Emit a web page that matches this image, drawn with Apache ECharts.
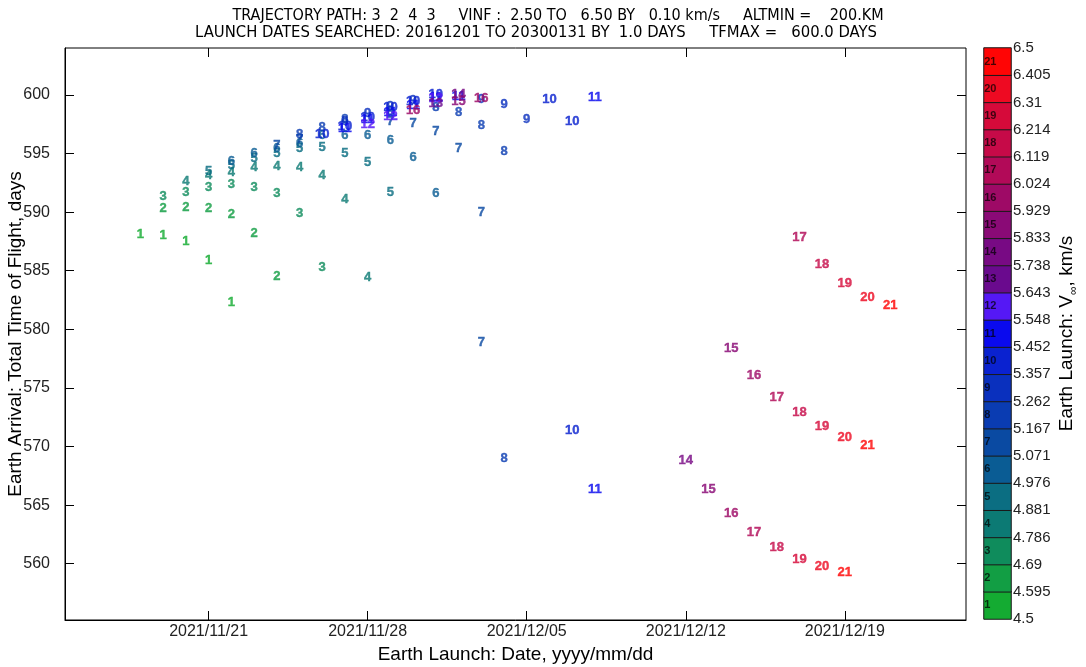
<!DOCTYPE html>
<html><head><meta charset="utf-8">
<script src="https://cdn.jsdelivr.net/npm/echarts@6/dist/echarts.min.js"></script>
<style>html,body{margin:0;padding:0;background:#fff}#c{width:1086px;height:667px}</style>
</head><body><div id="c"></div>
<script>
// ---- data: [launch date, total time of flight (days)] per V-infinity bin ----
const bin01 = [['2021-11-18',588.1],['2021-11-19',588.0],['2021-11-20',587.5],['2021-11-21',585.9],['2021-11-22',582.3]];
const bin02 = [['2021-11-19',590.3],['2021-11-20',590.4],['2021-11-21',590.35],['2021-11-22',589.8],['2021-11-23',588.2],['2021-11-24',584.5]];
const bin03 = [['2021-11-19',591.35],['2021-11-20',591.7],['2021-11-21',592.1],['2021-11-22',592.4],['2021-11-23',592.1],['2021-11-24',591.6],['2021-11-25',589.9],['2021-11-26',585.3]];
const bin04 = [['2021-11-20',592.6],['2021-11-21',593.1],['2021-11-22',593.4],['2021-11-23',593.8],['2021-11-24',593.9],['2021-11-25',593.8],['2021-11-26',593.1],['2021-11-27',591.1],['2021-11-28',584.4]];
const bin05 = [['2021-11-21',593.5],['2021-11-22',594.0],['2021-11-23',594.6],['2021-11-24',595.0],['2021-11-25',595.4],['2021-11-26',595.5],['2021-11-27',595.0],['2021-11-28',594.2],['2021-11-29',591.7]];
const bin06 = [['2021-11-22',594.3],['2021-11-23',595.0],['2021-11-24',595.4],['2021-11-25',595.9],['2021-11-26',596.5],['2021-11-27',596.5],['2021-11-28',596.5],['2021-11-29',596.1],['2021-11-30',594.7],['2021-12-01',591.6]];
const bin07 = [['2021-11-24',595.7],['2021-11-25',596.2],['2021-11-29',597.75],['2021-11-30',597.6],['2021-12-01',596.9],['2021-12-02',595.4],['2021-12-03',589.95],['2021-12-03',578.9]];
const bin08 = [['2021-11-25',596.6],['2021-11-26',597.2],['2021-11-27',597.9],['2021-11-29',598.6],['2021-12-01',598.9],['2021-12-02',598.5],['2021-12-03',597.4],['2021-12-04',595.2],['2021-12-04',569.0]];
const bin09 = [['2021-11-27',597.7],['2021-11-28',598.4],['2021-11-29',599.05],['2021-11-30',599.55],['2021-12-03',599.6],['2021-12-04',599.2],['2021-12-05',597.9]];
const bin10 = [['2021-11-26',596.6],['2021-11-27',597.3],['2021-11-28',598.1],['2021-11-29',598.9],['2021-11-30',599.4],['2021-12-01',600.0],['2021-12-06',599.6],['2021-12-07',597.7],['2021-12-07',571.4]];
const bin11 = [['2021-11-27',597.1],['2021-11-28',597.9],['2021-11-29',598.5],['2021-11-30',599.1],['2021-12-01',599.8],['2021-12-02',599.9],['2021-12-08',599.8],['2021-12-08',566.3]];
const bin12 = [['2021-11-28',597.5],['2021-11-29',598.2],['2021-12-01',599.7]];
const bin13 = [['2021-12-01',599.3]];
const bin14 = [['2021-12-02',600.0],['2021-12-12',568.8]];
const bin15 = [['2021-12-02',599.4],['2021-12-13',566.3],['2021-12-14',578.4]];
const bin16 = [['2021-11-30',598.7],['2021-12-03',599.7],['2021-12-14',564.3],['2021-12-15',576.1]];
const bin17 = [['2021-12-15',562.7],['2021-12-16',574.2],['2021-12-17',587.8]];
const bin18 = [['2021-12-16',561.4],['2021-12-17',572.9],['2021-12-18',585.5]];
const bin19 = [['2021-12-17',560.4],['2021-12-18',571.7],['2021-12-19',583.9]];
const bin20 = [['2021-12-18',559.8],['2021-12-19',570.8],['2021-12-20',582.7]];
const bin21 = [['2021-12-19',559.3],['2021-12-20',570.1],['2021-12-21',582.0]];

const binColors = ['#14ab32','#129e44','#0f8c5c','#0c7a74','#0b6e82','#0a5c94','#0a4aa2','#0a3cb2','#0a30be','#0a22d0','#0a0aee',
                   '#5518f5','#6a0a8e','#780a84','#8a0a76','#9e0a66','#b20a58','#c60a48','#d60a3a','#ee0a22','#ff0505'];
const cbTickLabels = ['4.5','4.595','4.69','4.786','4.881','4.976','5.071','5.167','5.262','5.357','5.452','5.548',
                      '5.643','5.738','5.833','5.929','6.024','6.119','6.214','6.31','6.405','6.5'];
const yTicks = [560,565,570,575,580,585,590,595,600];
const xTickDates = ['2021-11-21','2021-11-28','2021-12-05','2021-12-12','2021-12-19'];
const titleLine1 = 'TRAJECTORY PATH: 3  2  4  3     VINF :  2.50 TO   6.50 BY   0.10 km/s     ALTMIN =    200.KM';
const titleLine2 = 'LAUNCH DATES SEARCHED: 20161201 TO 20300131 BY  1.0 DAYS     TFMAX =   600.0 DAYS';

// ---- helpers ----
const bins = [bin01,bin02,bin03,bin04,bin05,bin06,bin07,bin08,bin09,bin10,bin11,bin12,bin13,bin14,bin15,bin16,bin17,bin18,bin19,bin20,bin21];
function ts(s){ const [y,m,d] = s.split('-').map(Number); return new Date(y, m-1, d).getTime(); }
function fmtDate(v){ const d = new Date(Math.round(v)); const p = n => String(n).padStart(2,'0'); return d.getFullYear()+'/'+p(d.getMonth()+1)+'/'+p(d.getDate()); }
const HOUR = 3600*1000;
const xMin = ts('2021-11-14') + 16.3*HOUR;
const xMax = ts('2021-12-24') + 8*HOUR;
const xTicks = xTickDates.map(ts);
const cbLo = 4.5, cbHi = 6.5;
const cbBounds = cbTickLabels.map((t,i) => cbLo + i*(cbHi-cbLo)/(cbTickLabels.length-1));

const FONT = '"Liberation Sans", Arial, sans-serif';
const NARROW = '"Liberation Sans Narrow", "DejaVu Sans Condensed", sans-serif';
const tickStyle = {color:'#222', fontSize:16, fontFamily:FONT};

const series = bins.map((arr, i) => ({
  type:'scatter', name:String(i+1), xAxisIndex:0, yAxisIndex:0,
  data: arr.map(p => [ts(p[0]), p[1]]),
  symbolSize:0, itemStyle:{color:'rgba(0,0,0,0)'}, silent:true, z:2+i*0.01,
  label:{show:true, position:'inside', formatter:String(i+1), color:binColors[i], fontSize:13, fontWeight:'bold', fontFamily:FONT,
         textBorderColor:binColors[i], textBorderWidth:0.4, offset:[-5,0]},
  labelLayout:{hideOverlap:false}
}));

series.push({
  type:'heatmap', xAxisIndex:2, yAxisIndex:2, silent:true,
  data: binColors.map((c,i) => ({value:[0,i,i+1], itemStyle:{color:c, borderColor:'#1a1a1a', borderWidth:1}})),
  label:{show:true, position:'insideLeft', distance:1, formatter:p => String(p.value[2]), color:'rgba(0,0,0,0.72)', fontSize:11, fontWeight:'bold', fontFamily:FONT}
});

const option = {
  animation:false,
  backgroundColor:'#fff',
  graphic:[
    {type:'text', x:558, y:16, style:{text:titleLine1, align:'center', verticalAlign:'middle', fontSize:16, fontFamily:NARROW, fill:'#000'}},
    {type:'text', x:536, y:33, style:{text:titleLine2, align:'center', verticalAlign:'middle', fontSize:16.5, fontFamily:NARROW, fill:'#000'}}
  ],
  grid:[
    {left:65, right:120, top:48, bottom:47, show:true, borderColor:'#000', borderWidth:1, backgroundColor:'#fff', outerBoundsMode:'none', containLabel:false},
    {left:984, width:27, top:48, bottom:48, outerBoundsMode:'none', containLabel:false}
  ],
  xAxis:[
    {type:'value', gridIndex:0, min:xMin, max:xMax, position:'bottom',
     name:'Earth Launch: Date, yyyy/mm/dd', nameLocation:'middle', nameGap:25, nameMoveOverlap:false,
     nameTextStyle:{color:'#000', fontSize:19, fontFamily:FONT},
     axisLine:{show:true, lineStyle:{color:'#000'}},
     axisTick:{show:true, inside:true, length:9, lineStyle:{color:'#000'}, customValues:xTicks},
     axisLabel:{show:true, margin:4, ...tickStyle, customValues:xTicks, formatter:v => fmtDate(v)},
     splitLine:{show:false}},
    {type:'value', gridIndex:0, min:xMin, max:xMax, position:'top',
     axisLine:{show:false}, axisLabel:{show:false},
     axisTick:{show:true, inside:true, length:9, lineStyle:{color:'#000'}, customValues:xTicks},
     splitLine:{show:false}},
    {type:'category', gridIndex:1, data:['cb'], show:false}
  ],
  yAxis:[
    {type:'value', gridIndex:0, min:555.2, max:604, position:'left',
     name:'Earth Arrival: Total Time of Flight, days', nameLocation:'middle', nameGap:40, nameRotate:90, nameMoveOverlap:false,
     nameTextStyle:{color:'#000', fontSize:19, fontFamily:FONT},
     axisLine:{show:true, lineStyle:{color:'#000'}},
     axisTick:{show:true, inside:true, length:9, lineStyle:{color:'#000'}, customValues:yTicks},
     axisLabel:{show:true, margin:15, ...tickStyle, customValues:yTicks, formatter:v => String(v)},
     splitLine:{show:false}},
    {type:'value', gridIndex:0, min:555.2, max:604, position:'right',
     axisLine:{show:false}, axisLabel:{show:false},
     axisTick:{show:true, inside:true, length:9, lineStyle:{color:'#000'}, customValues:yTicks},
     splitLine:{show:false}},
    {type:'category', gridIndex:1, data:binColors.map((c,i)=>String(i+1)), show:false},
    {type:'value', gridIndex:1, min:cbLo, max:cbHi, position:'right',
     name:'Earth Launch: V{s|∞}, km/s', nameLocation:'middle', nameGap:43, nameRotate:90, nameMoveOverlap:false,
     nameTextStyle:{color:'#000', fontSize:19, fontFamily:FONT, lineHeight:26,
       rich:{s:{fontSize:12, fontFamily:FONT, color:'#000', lineHeight:13, verticalAlign:'bottom'}}},
     axisLine:{show:false}, axisTick:{show:false}, splitLine:{show:false},
     axisLabel:{show:true, margin:2, ...tickStyle, fontSize:15, customValues:cbBounds,
       formatter:v => { let k = 0, best = 1e9; cbBounds.forEach((b,i)=>{ const d=Math.abs(b-v); if(d<best){best=d;k=i;} }); return cbTickLabels[k]; }}}
  ],
  series: series
};
const chart = echarts.init(document.getElementById('c'), null, {renderer:'canvas'});
chart.setOption(option);
</script>
</body></html>
